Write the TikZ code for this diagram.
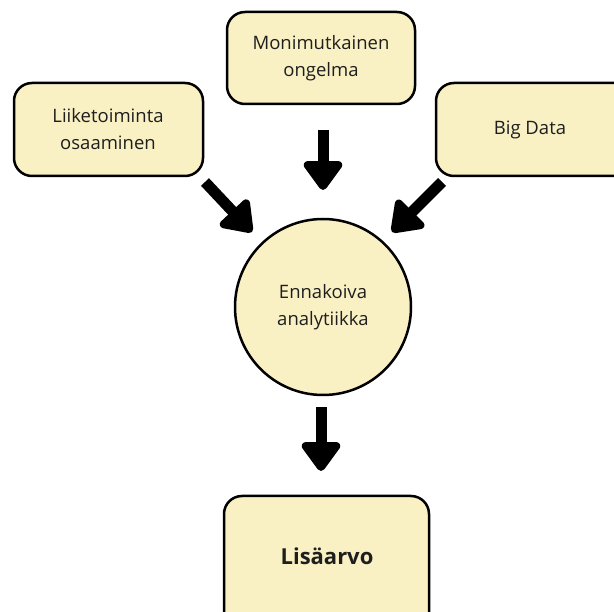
\documentclass[tikz,border=0pt]{standalone}
\usepackage{fontspec}
\setmainfont{Open Sans}
\usetikzlibrary{arrows.meta}
\definecolor{boxfill}{HTML}{F9F1C4}
\definecolor{txt}{HTML}{1E1E1E}
\begin{document}
\begin{tikzpicture}[x=1pt,y=-1pt,
  rbox/.style={draw=black,line width=2.5pt,fill=boxfill,rounded corners=18pt},
  lbl/.style={align=center,text=txt,font=\fontsize{18.5}{27}\selectfont},
  fat/.style={line width=11pt,-{Triangle[width=44pt,length=32pt,round]}}]
\useasboundingbox (0,0) rectangle (614,612);
\clip (0,0) rectangle (614,612);
\draw[rbox] (227,12) rectangle (415,104);
\node[lbl] (mon) at (321,58) {Monimutkainen\\ongelma};
\draw[rbox] (14,83) rectangle (203,176);
\node[lbl] (lii) at (108,129) {Liiketoiminta\\osaaminen};
\draw[rbox] (436,83) rectangle (640,176);
\node[lbl] (big) at (530,130) {Big Data};
\node[circle,draw=black,line width=2.5pt,fill=boxfill,minimum size=176pt,inner sep=0pt,lbl] (enn) at (323,307) {Ennakoiva\\analytiikka};
\draw[rbox] (224,496) rectangle (429,640);
\node[lbl,font=\fontsize{22}{24}\selectfont\bfseries] (lis) at (327,556) {Lisäarvo};
\coordinate (m1) at (323,130); \coordinate (m2) at (323,190);
\coordinate (l1) at (205,182); \coordinate (l2) at (252,232);
\coordinate (r1) at (442,182); \coordinate (r2) at (392,232);
\coordinate (b1) at (321,407); \coordinate (b2) at (321,471);
\draw[fat] (m1) -- (m2);
\draw[fat] (l1) -- (l2);
\draw[fat] (r1) -- (r2);
\draw[fat] (b1) -- (b2);
\end{tikzpicture}
\end{document}
